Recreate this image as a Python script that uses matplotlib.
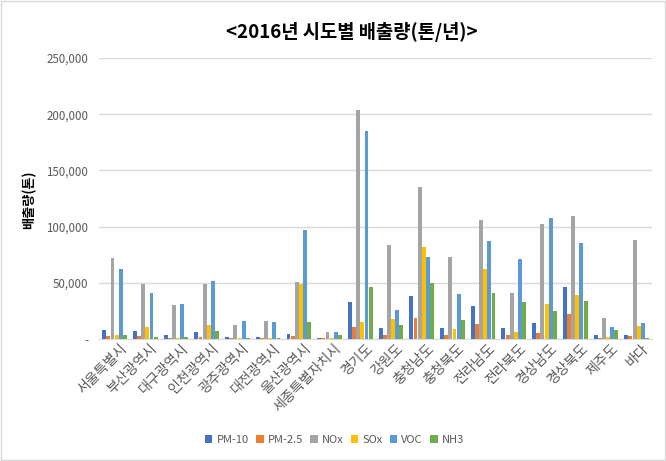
import matplotlib
matplotlib.use("Agg")
import matplotlib.pyplot as plt
import numpy as np
from matplotlib.patches import Rectangle
from matplotlib.ticker import FuncFormatter
import matplotlib.transforms as mtransforms

plt.rcParams['font.family'] = ['Noto Sans CJK KR', 'DejaVu Sans']

categories = ['서울특별시', '부산광역시', '대구광역시', '인천광역시', '광주광역시', '대전광역시',
              '울산광역시', '세종특별자치시', '경기도', '강원도', '충청남도', '충청북도',
              '전라남도', '전라북도', '경상남도', '경상북도', '제주도', '바다']

pm10 = [8000, 7000, 3500, 6200, 1800, 1800, 4200, 600, 32700, 9500, 38100, 9500,
        29300, 9800, 14300, 46400, 3600, 3600]
pm25 = [2600, 2600, 900, 1800, 900, 900, 2400, 600, 10400, 3300, 18500, 3300,
        13300, 3600, 5400, 22300, 900, 2700]
nox = [72300, 48500, 30000, 48500, 12300, 15900, 50300, 6000, 204000, 83600, 135400, 72900,
       106100, 41000, 102700, 109800, 18700, 88400]
sox = [3500, 10600, 300, 12300, 900, 900, 48800, 600, 14900, 17600, 81800, 8600,
       62500, 6200, 31200, 39300, 1800, 11600]
voc = [62600, 40600, 30900, 51200, 15900, 15000, 97000, 6000, 185400, 25600, 72900, 39900,
       87500, 71400, 108000, 85700, 10700, 13800]
nh3 = [3500, 1800, 1800, 7000, 900, 900, 14900, 3300, 46100, 12200, 49700, 16700,
       41000, 33000, 25000, 33900, 8000, 600]

series_names = ['PM-10', 'PM-2.5', 'NOx', 'SOx', 'VOC', 'NH3']
series_values = [pm10, pm25, nox, sox, voc, nh3]
colors = ['#4472C4', '#ED7D31', '#A5A5A5', '#FFC000', '#5B9BD5', '#70AD47']

fig = plt.figure(figsize=(6.66, 4.61), dpi=100)
ax = fig.add_axes([0.149, 0.265, 0.830, 0.609])

x = np.arange(len(categories))
bw = 0.128
gap = 0.135
for k, (name, vals, c) in enumerate(zip(series_names, series_values, colors)):
    ax.bar(x + (k - 2.5) * gap, vals, width=bw, color=c, label=name, zorder=3)

ax.set_xlim(-0.5, len(categories) - 0.5)
ax.set_ylim(0, 250000)
ax.set_yticks(np.arange(0, 250001, 50000))
ax.yaxis.set_major_formatter(FuncFormatter(lambda v, p: '-' if v == 0 else f'{int(v):,}'))
ax.grid(axis='y', color='#D9D9D9', linewidth=1, zorder=0)
for s in ['top', 'right', 'left']:
    ax.spines[s].set_visible(False)
ax.spines['bottom'].set_color('#D9D9D9')
ax.tick_params(axis='y', length=0, labelsize=8.3, labelcolor='#595959', pad=8)
ax.tick_params(axis='x', length=0, labelsize=10, labelcolor='#595959', pad=2)
ax.set_xticks(x)
ax.set_xticklabels(categories, rotation=45, ha='right', va='top', rotation_mode='anchor')
offset = mtransforms.ScaledTranslation(5 / 100, 0, fig.dpi_scale_trans)
for lab in ax.get_xticklabels():
    lab.set_transform(lab.get_transform() + offset)

fig.text(0.528, 0.930, '<2016년 시도별 배출량(톤/년)>', ha='center', va='center',
         fontsize=13.5, fontweight='bold', color='black')
fig.text(0.044, 0.567, '배출량(톤)', ha='center', va='center', rotation=90,
         fontsize=9.5, fontweight='bold', color='black')

fig.legend(loc='center', bbox_to_anchor=(0.502, 0.045), ncol=6, frameon=False,
           fontsize=8, labelcolor='#595959', handlelength=0.7, handleheight=0.7,
           handletextpad=0.35, columnspacing=0.65)

fig.patches.append(Rectangle((0.002, 0.002), 0.996, 0.996, transform=fig.transFigure,
                             fill=False, edgecolor='#D9D9D9', linewidth=1))

fig.savefig('out.png', dpi=100)
